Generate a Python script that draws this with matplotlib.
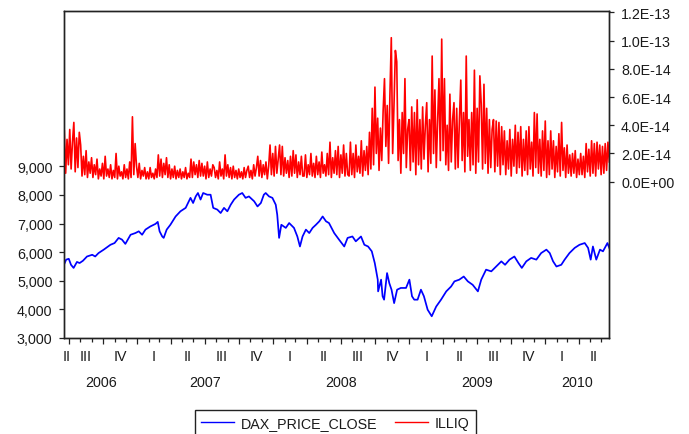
import matplotlib
matplotlib.use('Agg')
import matplotlib.pyplot as plt
import matplotlib.dates as mdates
import matplotlib.transforms as mtransforms
from matplotlib.ticker import FixedLocator, NullFormatter
from matplotlib.lines import Line2D
import pandas as pd

plt.rcParams['font.family'] = ['Liberation Sans', 'DejaVu Sans']

# ---------------- data ----------------
sample_start = '2006-06-19'
sample_end = '2010-06-22'

# DAX close: calendar-day offset from sample_start, and value
dax_day = [0, 5, 12, 18, 25, 34, 41, 50, 61, 75, 83, 92, 106, 124, 135, 146, 155, 164, 178, 191,
           200, 209, 218, 231, 245, 251, 256, 263, 267, 275, 285, 299, 312, 326, 339, 346, 353, 359,
           366, 373, 384, 393, 400, 411, 420, 429, 438, 447, 456, 469, 478, 487, 496, 510, 519, 528,
           536, 541, 550, 559, 568, 572, 577, 583, 595,
           604, 617, 626, 633, 640, 649, 658, 667, 676, 685, 694, 703, 711, 725, 738, 752, 761, 774,
           783, 797, 806, 816, 826, 834, 842, 843, 851, 855, 859, 867, 873, 879, 886, 894, 904, 918,
           927, 934, 940, 949, 958, 966, 976, 987, 999, 1012, 1026, 1039, 1048, 1061, 1073, 1084,
           1097, 1111, 1120, 1133, 1147, 1160, 1174, 1184, 1196, 1209, 1220, 1229, 1241, 1254, 1268,
           1281, 1295, 1304, 1313, 1322, 1335, 1344, 1357, 1371, 1384, 1398, 1407, 1414, 1420, 1429,
           1439, 1447, 1459, 1464]
dax_values = [5590, 5740, 5770, 5560, 5450, 5660, 5620, 5700, 5850, 5910, 5850, 5970, 6090, 6260,
              6320, 6500, 6440, 6290, 6610, 6670, 6730, 6610, 6790, 6900, 6990, 7060, 6730, 6550,
              6500, 6790, 6960, 7250, 7430, 7550, 7900, 7720, 7950, 8070, 7840, 8070, 8010, 8010,
              7550, 7490, 7370, 7550, 7430, 7660, 7840, 8010, 8070, 7900, 7950, 7780, 7600, 7720,
              8010, 8070, 7950, 7900, 7660, 7310, 6500, 6960, 6850,
              7020, 6850, 6550, 6200, 6550, 6790, 6670, 6850, 6960, 7080, 7250, 7080, 7020, 6670,
              6440, 6200, 6500, 6550, 6380, 6550, 6260, 6200, 6030, 5620, 5040, 4630, 5040, 4460,
              4340, 5270, 4920, 4690, 4220, 4690, 4750, 4750, 5040, 4460, 4340, 4340, 4690, 4460,
              3990, 3760, 4100, 4340, 4630, 4800, 4980, 5040, 5150, 4980, 4860, 4630, 5040, 5390,
              5330, 5500, 5680, 5560, 5740, 5850, 5620, 5450, 5680, 5800, 5740, 5970, 6090, 5970,
              5680, 5500, 5560, 5740, 5970, 6150, 6260, 6320, 6150, 5740, 6200, 5740, 6090, 6030,
              6320, 6150]

# ILLIQ in units of 1E-14, roughly every 4 days over the sample
illiq_e14 = [
    3.6, 0.6, 3.0, 1.2,                                  # Jun 2006
    3.7, 0.9, 2.8, 4.2, 0.7, 3.1, 1.0, 3.5,              # Jul
    2.6, 0.4, 1.8, 0.5, 2.2, 0.3, 1.4, 0.6,              # Aug
    1.7, 0.3, 1.2, 0.5, 1.6, 0.2, 0.9, 0.4,              # Sep
    1.3, 0.2, 1.8, 0.4, 0.9, 0.3, 1.2, 0.2,              # Oct
    0.8, 0.3, 2.0, 0.2, 1.1, 0.4, 0.7, 0.2,              # Nov
    1.2, 0.3, 0.9, 0.2, 1.4, 0.3, 4.6, 0.5, 2.7,         # Dec
    1.1, 0.3, 1.3, 0.2, 0.8, 0.4, 1.0, 0.2,              # Jan 2007
    0.7, 0.2, 1.0, 0.3, 0.6, 0.2, 0.9, 0.3,              # Feb
    1.9, 0.4, 1.6, 0.3, 1.3, 0.5, 1.7, 0.3,              # Mar
    1.2, 0.2, 0.9, 0.3, 1.1, 0.2, 0.8, 0.3,              # Apr
    0.9, 0.2, 0.7, 0.3, 1.0, 0.2, 0.6, 0.3,              # May
    1.6, 0.3, 1.4, 0.5, 1.2, 0.3, 1.5, 0.4,              # Jun
    1.3, 0.4, 1.1, 0.2, 1.4, 0.3, 0.9, 0.4, 1.2,         # Jul
    1.0, 0.3, 0.8, 0.2, 1.4, 0.4, 0.9, 0.2,              # Aug
    1.9, 0.4, 1.2, 0.3, 1.0, 0.2, 1.1, 0.3,              # Sep
    0.8, 0.2, 0.9, 0.3, 0.7, 0.2, 1.0, 0.3, 0.8,         # Oct
    1.1, 0.3, 0.8, 0.2, 1.2, 0.4, 1.0, 1.8,              # Nov
    0.4, 1.5, 0.3, 1.2, 0.5, 1.4, 0.2, 1.1,              # Dec
    2.6, 0.5, 2.0, 0.4, 2.5, 0.6, 1.6, 2.6,              # Jan 2008
    0.5, 2.5, 0.4, 1.7, 0.6, 1.5, 0.3, 1.8,              # Feb
    0.4, 2.2, 0.6, 1.9, 0.3, 1.4, 0.5, 1.8, 0.4,         # Mar
    0.4, 1.9, 0.3, 1.2, 0.5, 2.0, 0.4, 1.3,              # Apr
    0.3, 1.8, 0.5, 1.4, 0.3, 2.1, 0.6, 1.2,              # May
    0.4, 2.0, 0.5, 2.8, 0.3, 1.7, 0.6, 2.2,              # Jun
    0.5, 2.5, 0.3, 1.9, 0.6, 2.6, 0.4, 2.0, 0.5,         # Jul
    0.4, 2.8, 0.5, 2.0, 0.3, 2.6, 0.7, 1.8,              # Aug
    0.6, 2.9, 0.4, 2.2, 0.8, 2.5, 0.5, 3.5, 0.9,         # Sep
    5.2, 1.2, 6.7, 2.0, 4.5, 0.8, 3.8, 1.5, 5.0,         # Oct
    7.3, 2.5, 5.4, 1.3, 6.2, 10.2, 2.0, 5.5, 9.3,        # Nov
    8.5, 1.5, 4.4, 0.6, 4.9, 2.0, 7.3, 1.0, 3.7,         # Dec
    4.4, 0.8, 5.3, 1.4, 4.9, 0.5, 5.8, 1.2, 4.4,         # Jan 2009
    0.9, 5.3, 1.6, 4.0, 5.6, 0.7, 4.4, 1.3, 8.9,         # Feb
    2.0, 6.5, 1.0, 4.3, 7.3, 1.5, 10.1, 2.2, 7.3,        # Mar
    1.2, 4.0, 0.8, 6.2, 1.4, 4.4, 5.6, 0.9, 5.2,         # Apr
    1.0, 4.4, 7.2, 1.5, 4.9, 0.7, 8.9, 1.8, 4.4,         # May
    0.8, 4.9, 1.2, 7.9, 0.6, 5.2, 1.4, 7.5, 5.5,         # Jun
    0.9, 6.9, 1.3, 5.2, 0.6, 4.4, 1.0, 3.7, 4.4,         # Jul
    0.7, 4.3, 1.1, 4.2, 0.5, 3.9, 1.2, 3.6,              # Aug
    0.5, 2.9, 0.9, 3.7, 0.4, 3.0, 1.1, 4.0,              # Sep
    0.6, 3.5, 1.0, 3.9, 0.4, 3.0, 0.8, 3.6,              # Oct
    0.5, 3.9, 0.9, 2.8, 0.4, 4.9, 1.0, 4.8,              # Nov
    0.6, 3.0, 0.4, 3.6, 0.8, 4.3, 0.3, 2.9,              # Dec
    0.5, 3.6, 0.9, 2.9, 0.3, 2.5, 0.7, 3.4,              # Jan 2010
    0.4, 4.2, 0.8, 2.4, 0.3, 2.6, 0.6,                   # Feb
    1.9, 0.4, 2.0, 0.6, 2.2, 0.3, 1.6, 0.5,              # Mar
    2.0, 0.5, 1.8, 0.3, 2.7, 0.7, 2.3, 0.4,              # Apr
    2.9, 0.6, 2.7, 0.4, 2.8, 0.9, 2.6, 0.5,              # May
    2.5, 0.6, 2.7, 0.8, 2.8, 1.4,                        # Jun
]

quarter_labels = ['II', 'III', 'IV', 'I', 'II', 'III', 'IV', 'I', 'II', 'III', 'IV',
                  'I', 'II', 'III', 'IV', 'I', 'II']
year_labels = ['2006', '2007', '2008', '2009', '2010']
left_ticks = [3000, 4000, 5000, 6000, 7000, 8000, 9000]
right_ticks_e14 = [0, 2, 4, 6, 8, 10, 12]

# ---------------- figure ----------------
W, H = 689, 435
fig = plt.figure(figsize=(W / 100, H / 100), dpi=100)
x0, x1, ytop, ybot = 64.3, 609.3, 11.7, 339.0
ax = fig.add_axes([x0 / W, 1 - ybot / H, (x1 - x0) / W, (ybot - ytop) / H])
ax2 = ax.twinx()

FS = 10.3
TXT = '#1a1a1a'
SPC = '#222222'

t_start = pd.Timestamp(sample_start)
t_end = pd.Timestamp(sample_end)
illiq_dates = pd.date_range(t_start, t_end, periods=len(illiq_e14))
n = min(len(dax_day), len(dax_values))
dax_dates = t_start + pd.to_timedelta(dax_day[:n], unit='D')

ax2.plot(illiq_dates, [v * 1e-14 for v in illiq_e14], color='#ff0000', lw=1.2)
ax.plot(dax_dates, dax_values[:n], color='#0000ff', lw=1.25, solid_joinstyle='round')

ax.set_xlim(t_start, t_end)
ax.set_ylim(3000, 3000 + (ybot - ytop) / 28.6 * 1000)
ax2.set_ylim(-(ybot - 182.7) / 28.23 * 2e-14, (182.7 - ytop) / 28.23 * 2e-14)

ax.yaxis.set_major_locator(FixedLocator(left_ticks))
ax.set_yticklabels([f'{v:,.0f}' for v in left_ticks])
ax2.yaxis.set_major_locator(FixedLocator([v * 1e-14 for v in right_ticks_e14]))
ax2.set_yticklabels([f'{v * 1e-14:.1E}' for v in right_ticks_e14])

ax.xaxis.set_major_locator(mdates.MonthLocator(bymonth=[1, 4, 7, 10]))
ax.xaxis.set_minor_locator(mdates.MonthLocator())
ax.xaxis.set_major_formatter(NullFormatter())
ax.xaxis.set_minor_formatter(NullFormatter())

ax.tick_params(axis='x', which='major', direction='out', length=4.5, width=0.9, color=SPC)
ax.tick_params(axis='x', which='minor', direction='out', length=3.0, width=0.9, color=SPC)
ax.tick_params(axis='y', direction='out', length=3.5, width=0.9, color=SPC,
               labelsize=FS, labelcolor=TXT, pad=5)
ax2.tick_params(axis='y', direction='out', length=3.5, width=0.9, color=SPC,
                labelsize=FS, labelcolor=TXT, pad=5)

for a in (ax, ax2):
    for s in a.spines.values():
        s.set_color(SPC)
        s.set_linewidth(1.0)

# quarter and year labels centred on the visible part of each period
trans = mtransforms.blended_transform_factory(ax.transData, ax.transAxes)
qy = -(357 - ybot) / (ybot - ytop)
yy = -(383 - ybot) / (ybot - ytop)
quarters = pd.period_range(t_start, t_end, freq='Q')
for lab, q in zip(quarter_labels, quarters):
    a = max(q.start_time, t_start)
    b = min(q.end_time, t_end)
    c = a + (b - a) / 2
    ax.text(mdates.date2num(c), qy, lab, transform=trans, ha='center', va='center',
            fontsize=FS, color=TXT)
years = pd.period_range(t_start, t_end, freq='Y')
for lab, yv in zip(year_labels, years):
    a = max(yv.start_time, t_start)
    b = min(yv.end_time, t_end)
    c = a + (b - a) / 2
    ax.text(mdates.date2num(c), yy, lab, transform=trans, ha='center', va='center',
            fontsize=FS, color=TXT)

handles = [Line2D([], [], color='#0000ff', lw=1.0), Line2D([], [], color='#ff0000', lw=1.0)]
leg = fig.legend(handles, ['DAX_PRICE_CLOSE', 'ILLIQ'], loc='upper center',
                 bbox_to_anchor=(335.5 / W, 1 - 411 / H), ncol=2, fontsize=FS,
                 frameon=True, fancybox=False, edgecolor='#222222', framealpha=1,
                 borderaxespad=0, handlelength=2.3, handletextpad=0.5, columnspacing=1.2,
                 borderpad=0.45)
leg.get_frame().set_linewidth(1.0)
for t in leg.get_texts():
    t.set_color(TXT)

fig.savefig('out.png', dpi=100)
